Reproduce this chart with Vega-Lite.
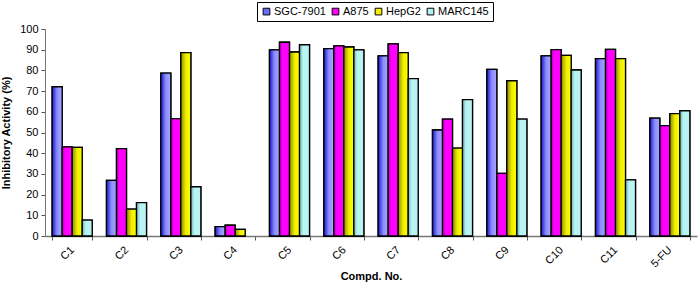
{
  "$schema": "https://vega.github.io/schema/vega-lite/v6.json",
  "width": 652,
  "height": 207,
  "autosize": {"type": "none"},
  "padding": {"left": 45, "top": 29, "right": 2, "bottom": 46},
  "background": "white",
  "config": {
    "view": {"stroke": null},
    "font": "Liberation Sans"
  },
  "data": {
    "values": [
      {"c": "C1", "s": "SGC-7901", "v": 72.1}, {"c": "C1", "s": "A875", "v": 43.1}, {"c": "C1", "s": "HepG2", "v": 42.8}, {"c": "C1", "s": "MARC145", "v": 7.7},
      {"c": "C2", "s": "SGC-7901", "v": 26.9}, {"c": "C2", "s": "A875", "v": 42.2}, {"c": "C2", "s": "HepG2", "v": 13.0}, {"c": "C2", "s": "MARC145", "v": 16.1},
      {"c": "C3", "s": "SGC-7901", "v": 78.7}, {"c": "C3", "s": "A875", "v": 56.7}, {"c": "C3", "s": "HepG2", "v": 88.6}, {"c": "C3", "s": "MARC145", "v": 23.8},
      {"c": "C4", "s": "SGC-7901", "v": 4.5}, {"c": "C4", "s": "A875", "v": 5.2}, {"c": "C4", "s": "HepG2", "v": 3.2},
      {"c": "C5", "s": "SGC-7901", "v": 89.9}, {"c": "C5", "s": "A875", "v": 93.6}, {"c": "C5", "s": "HepG2", "v": 88.9}, {"c": "C5", "s": "MARC145", "v": 92.4},
      {"c": "C6", "s": "SGC-7901", "v": 90.5}, {"c": "C6", "s": "A875", "v": 91.8}, {"c": "C6", "s": "HepG2", "v": 91.3}, {"c": "C6", "s": "MARC145", "v": 89.9},
      {"c": "C7", "s": "SGC-7901", "v": 87.0}, {"c": "C7", "s": "A875", "v": 92.8}, {"c": "C7", "s": "HepG2", "v": 88.6}, {"c": "C7", "s": "MARC145", "v": 76.0},
      {"c": "C8", "s": "SGC-7901", "v": 51.2}, {"c": "C8", "s": "A875", "v": 56.5}, {"c": "C8", "s": "HepG2", "v": 42.5}, {"c": "C8", "s": "MARC145", "v": 65.9},
      {"c": "C9", "s": "SGC-7901", "v": 80.5}, {"c": "C9", "s": "A875", "v": 30.3}, {"c": "C9", "s": "HepG2", "v": 75.0}, {"c": "C9", "s": "MARC145", "v": 56.5},
      {"c": "C10", "s": "SGC-7901", "v": 87.0}, {"c": "C10", "s": "A875", "v": 90.0}, {"c": "C10", "s": "HepG2", "v": 87.3}, {"c": "C10", "s": "MARC145", "v": 80.2},
      {"c": "C11", "s": "SGC-7901", "v": 85.7}, {"c": "C11", "s": "A875", "v": 90.2}, {"c": "C11", "s": "HepG2", "v": 85.7}, {"c": "C11", "s": "MARC145", "v": 27.1},
      {"c": "5-FU", "s": "SGC-7901", "v": 56.9}, {"c": "5-FU", "s": "A875", "v": 53.3}, {"c": "5-FU", "s": "HepG2", "v": 59.1}, {"c": "5-FU", "s": "MARC145", "v": 60.5}
    ]
  },
  "encoding": {
    "x": {
      "field": "c", "type": "nominal",
      "scale": {"domain": ["C1", "C2", "C3", "C4", "C5", "C6", "C7", "C8", "C9", "C10", "C11", "5-FU"], "paddingInner": 0.263, "paddingOuter": 0.1315},
      "axis": {
        "title": "Compd. No.", "titleFontSize": 11, "titleFontWeight": "bold", "titleColor": "black", "titlePadding": 2,
        "labelAngle": -45, "labelAlign": "right", "labelBaseline": "middle", "labelFontSize": 11, "labelColor": "black", "labelPadding": 8,
        "tickBand": "extent", "tickSize": 4, "tickColor": "#555", "domainColor": "#777", "domainWidth": 1.5
      }
    },
    "xOffset": {"field": "s", "type": "nominal", "scale": {"domain": ["SGC-7901", "A875", "HepG2", "MARC145"], "paddingInner": 0, "paddingOuter": 0}},
    "y": {
      "field": "v", "type": "quantitative",
      "scale": {"domain": [0, 100], "nice": false},
      "axis": {
        "title": "Inhibitory Activity (%)", "titleFontSize": 11, "titleFontWeight": "bold", "titleColor": "black", "titlePadding": 8,
        "values": [0, 10, 20, 30, 40, 50, 60, 70, 80, 90, 100], "grid": false,
        "labelFontSize": 11, "labelColor": "black", "tickSize": 4, "tickColor": "#555", "domainColor": "#777", "labelPadding": 3
      }
    }
  },
  "layer": [
    {
      "mark": {"type": "bar", "stroke": "black", "strokeWidth": 1.3, "fillOpacity": 1},
      "encoding": {
        "color": {
          "field": "s", "type": "nominal",
          "scale": {"domain": ["SGC-7901", "A875", "HepG2", "MARC145"], "range": ["#6a6aff", "#ff00ff", "#f0f000", "#b0f0f0"]},
          "legend": {
            "title": null, "orient": "none", "legendX": 212, "legendY": -27, "direction": "horizontal",
            "symbolType": "square", "symbolSize": 45, "symbolStrokeColor": "black", "symbolStrokeWidth": 1,
            "labelFontSize": 11, "labelColor": "black", "labelOffset": 2, "columnPadding": 4,
            "strokeColor": "black", "fillColor": "white", "padding": 4
          }
        }
      }
    },
    {
      "transform": [{"filter": "datum.s === 'SGC-7901'"}],
      "mark": {"type": "bar", "stroke": "black", "strokeWidth": 1.3,
        "color": {"gradient": "linear", "x1": 0, "x2": 1, "y1": 0, "y2": 0, "stops": [{"offset": 0, "color": "#1818d0"}, {"offset": 0.5, "color": "#8c8cff"}, {"offset": 1, "color": "#a8a8ff"}]}}
    },
    {
      "transform": [{"filter": "datum.s === 'A875'"}],
      "mark": {"type": "bar", "stroke": "black", "strokeWidth": 1.3,
        "color": {"gradient": "linear", "x1": 0, "x2": 1, "y1": 0, "y2": 0, "stops": [{"offset": 0, "color": "#b000b0"}, {"offset": 0.3, "color": "#ff00ff"}, {"offset": 1, "color": "#ff00ff"}]}}
    },
    {
      "transform": [{"filter": "datum.s === 'HepG2'"}],
      "mark": {"type": "bar", "stroke": "black", "strokeWidth": 1.3,
        "color": {"gradient": "linear", "x1": 0, "x2": 1, "y1": 0, "y2": 0, "stops": [{"offset": 0, "color": "#8c8c00"}, {"offset": 0.5, "color": "#eeee00"}, {"offset": 1, "color": "#ffff00"}]}}
    },
    {
      "transform": [{"filter": "datum.s === 'MARC145'"}],
      "mark": {"type": "bar", "stroke": "black", "strokeWidth": 1.3,
        "color": {"gradient": "linear", "x1": 0, "x2": 1, "y1": 0, "y2": 0, "stops": [{"offset": 0, "color": "#70b0b0"}, {"offset": 0.35, "color": "#b8f4f4"}, {"offset": 1, "color": "#b8f4f4"}]}}
    }
  ]
}
